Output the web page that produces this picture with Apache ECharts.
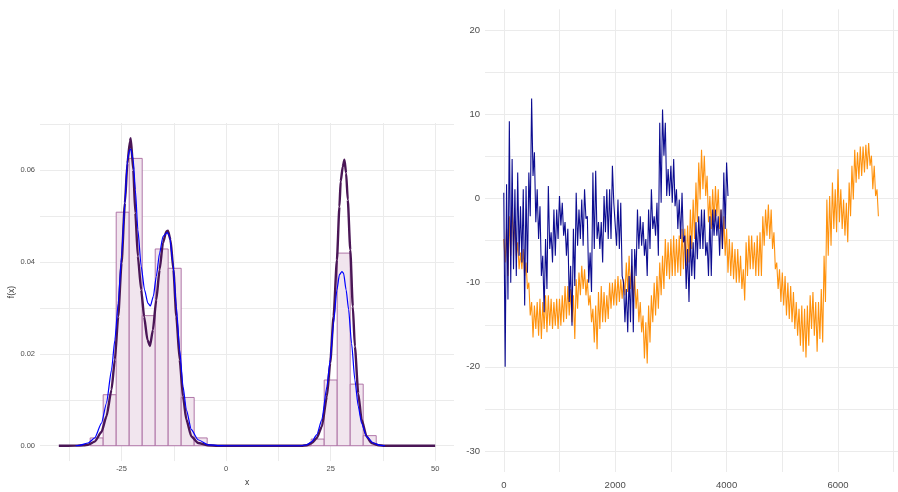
<!DOCTYPE html>
<html><head><meta charset="utf-8">
<script src="https://cdn.jsdelivr.net/npm/echarts@6/dist/echarts.min.js"></script>
<style>html,body{margin:0;padding:0;background:#fff}#c{width:898px;height:492px}</style>
</head><body><div id="c"></div>
<script>
// ---- left panel: histogram + densities ----
const binEdges = [-32.5,-29.39,-26.28,-23.17,-20.06,-16.95,-13.85,-10.74,-7.63,-4.52,-1.41,1.70,4.81,7.92,11.03,14.14,17.24,20.35,23.46,26.57,29.68,32.79,35.90];
const binHeights = [0.0017,0.0111,0.0508,0.0625,0.0283,0.0428,0.0386,0.0105,0.0017,0,0,0,0,0,0,0,0,0.00145,0.0143,0.0419,0.0134,0.0022];
const trueX = [-40,-36,-34,-33,-31.4,-29.8,-28.6,-27.4,-26.6,-25.8,-25.0,-24.2,-23.6,-23.0,-22.8,-22.2,-21.7,-21.1,-20.3,-19.6,-18.8,-18.2,-17.5,-16.7,-15.9,-15.1,-14.3,-13.9,-13.3,-12.6,-11.9,-11.1,-10.3,-9.5,-8.3,-6.7,-4.3,-2,18,19.3,20.5,21.7,22.9,24.1,24.9,25.7,26.5,27.1,27.4,27.9,28.3,28.7,29.1,29.7,30.3,30.8,31.6,32.4,33.6,34.8,36.4,38,50];
const trueY = [0,0.00002,0.0001,0.0002,0.0009,0.003,0.0064,0.0122,0.0187,0.0281,0.0397,0.0528,0.0614,0.0662,0.0669,0.0600,0.0506,0.0412,0.0339,0.0281,0.0230,0.0217,0.0252,0.0317,0.0383,0.0441,0.0466,0.0468,0.0448,0.0383,0.0281,0.0187,0.0107,0.0057,0.0020,0.0006,0.0001,0,0,0.0001,0.0006,0.0017,0.0042,0.0107,0.018,0.0281,0.0404,0.052,0.0575,0.0607,0.0622,0.0593,0.0535,0.0426,0.0303,0.0216,0.0114,0.0057,0.002,0.0006,0.0001,0,0];
const kdeX = [-36,-35,-33,-31.4,-29.8,-28.6,-27.4,-26.6,-25.8,-25.0,-24.2,-23.6,-23.1,-22.8,-22.2,-21.7,-21.1,-20.3,-19.5,-18.7,-18.1,-17.4,-16.7,-15.9,-15.1,-14.3,-14.1,-13.5,-12.7,-11.9,-11.1,-10.3,-9.5,-8.3,-6.7,-4.3,-2,0,18,19.3,20.5,21.7,22.9,24.1,24.9,25.7,26.5,27.1,27.7,28.1,28.7,29.3,30.0,30.8,31.6,32.4,33.6,35.2,36.8,38];
const kdeY = [0,0.0001,0.0006,0.0017,0.0049,0.0093,0.0165,0.023,0.031,0.0412,0.0528,0.0622,0.0643,0.0645,0.0622,0.0557,0.047,0.039,0.0339,0.031,0.0304,0.0325,0.0368,0.0419,0.0455,0.0462,0.0464,0.0455,0.0397,0.0303,0.0209,0.0129,0.0078,0.0035,0.0013,0.0002,0.00003,0,0,0.0002,0.0009,0.0024,0.0057,0.0128,0.0187,0.0267,0.0339,0.0372,0.0379,0.0375,0.0339,0.0296,0.0223,0.0143,0.0086,0.0049,0.002,0.0006,0.0001,0];
const leftXLabels = [-25,0,25,50];
const leftXGrid = [-37.5,-25,-12.5,0,12.5,25,37.5,50];
const leftYLabels = [0,0.02,0.04,0.06];
const leftYGrid = [0,0.01,0.02,0.03,0.04,0.05,0.06,0.07];

// ---- right panel: two paths, each cell of 50 time steps read as [local high, local low] ----
const tStep = 25;
const navyPath = [
0.7,-20, 1.7,-12, 9.2,-10, 4.7,-8.4, 1.1,-9.2, 3.1,-6.8, -0.9,-7.6, 1.1,-12.7, 1.5,-8.8, 3.1,-2.1,
11.9,2.7, 5.5,-2.8, 1.1,-4.8, -0.9,-9.2, -6.8,-13.5, -4.8,-10.75, 1.5,-6, -4,-7.6, -1.3,-6.8, -1.3,-4.8,
0.3,-3.2, -0.5,-4.4, -2.8,-6.8, -3.6,-12.3, -8,-15.1, -3.6,-10.4, 0.7,-5.6, -1.3,-4.8, -0.1,-5.6, 1.1,-2.4,
-2.1,-10, -6.4,-11.1, 3.1,-6, 3.3,-4.8, -2.8,-6, -2.8,-7.6, 0.3,-4, 1.1,-4.8, 1.1,-4.8, 3.9,-0.5,
-0.5,-5.6, -0.1,-6, -0.5,-9.2, -10,-14.7, -10.75,-15.9, -9.2,-14.7, -6,-15.9, -6,-9.2, -1.3,-6, -2.1,-5.6,
-2.8,-6.8, -4.8,-9.2, -1.3,-6, 1.1,-3.6, -2.1,-4.4, -0.5,-6.8, 9,-0.5, 10.6,5.1, 9,0.3, 3.5,0.3,
3.9,-0.5, 4.7,-0.9, 1.1,-3.6, -0.1,-4.8, 0.7,-5.2, -4.4,-10.75, -6,-12.3, -4.4,-9.2, -5.2,-9.6, -2.8,-7.2,
-2.1,-6, -1.3,-6, -1.3,-6.8, -5.2,-9.2, -2.1,-9.2, -1.3,-4.4, -1.3,-4.4, -2.1,-6.8, -1.3,-6, 3.1,-3.6,
4.3,0.3
];
const orangePath = [
-4.8,-7.6, -3.6,-9.2, -2.1,-6.8, -0.9,-5.6, -2.8,-6.8, -5.2,-8.4, -6.4,-8.4, -6,-9.2, -7.6,-10.75, -10,-13.9,
-12.3,-16.5, -12.7,-15.5, -12.3,-16.3, -11.9,-16.7, -12.3,-15.5, -11.5,-15.9, -11.5,-15.1, -11.9,-15.5, -12.3,-15.1, -11.9,-15.5,
-11.9,-15.1, -11.5,-14.7, -10.4,-14.3, -10.4,-13.9, -10.75,-14.7, -11.5,-16.7, -9.6,-13.1, -8.8,-11.5, -8,-10.75, -8.4,-11.5,
-9.6,-12.7, -11.5,-14.7, -13.1,-17.1, -12.7,-17.9, -11.1,-15.5, -10.4,-14.7, -11.1,-14.7, -11.5,-14.3, -10,-13.1, -10,-12.7,
-9.6,-12.7, -9.2,-12.3, -9.6,-11.9, -9.6,-11.5, -7.6,-11.1, -6.8,-10.75, -8,-12.3, -9.2,-13.1, -10.75,-14.7, -12.3,-15.9,
-13.9,-19, -14.7,-19.6, -12.7,-17.1, -11.5,-14.7, -10,-13.9, -9.2,-13.1, -7.6,-11.5, -6.8,-10.75, -4.8,-9.2, -5.2,-9.6,
-4.8,-9.2, -4.4,-9.2, -4.8,-8.8, -4.4,-9.2, -3.6,-8.4, -3.6,-8, -3.2,-7.6, -1.3,-6, -0.1,-4.8, 1.9,-2.8,
4.3,-0.1, 5.8,1.1, 5.1,0.3, 2.7,-2.8, 0.3,-3.6, 1.1,-2.8, 1.5,-2.1, 1.1,-3.6, -1.3,-6, -2.1,-6.8,
-3.6,-8.8, -4.8,-9.2, -5.2,-9.6, -6,-10, -6,-10, -6.8,-10.75, -8.4,-12.1, -5.2,-9.2, -4.4,-8.4, -4.4,-8.4,
-5.2,-9.2, -4.4,-9.2, -4,-9.2, -2.1,-5.6, -1.3,-4.4, -0.7,-4.8, -1.3,-6, -4,-8.4, -7.6,-10.75, -8.4,-12.3,
-8.8,-12.7, -9.2,-13.9, -10,-14.3, -10.4,-14.7, -11.1,-15.5, -12.3,-16.3, -13.1,-17.5, -12.7,-18.2, -13.1,-18.9, -12.7,-17.5,
-11.5,-15.5, -11.1,-16.3, -12.3,-18.2, -12.3,-16.7, -10.75,-17.1, -6.8,-12.3, -0.1,-6.8, 0.3,-5.6, 1.9,-3.6, 1.1,-4,
3.5,-2.8, 1.1,-3.6, -0.1,-4.4, -0.5,-5.2, 1.9,-2.1, 3.9,-0.1, 5.8,1.9, 5.5,2.3, 6.2,2.7, 6.2,3.1,
6.4,3.5, 6.6,3.9, 5.1,1.1, 3.9,0.3, 1.1,-2.1
];
const rightXLabels = [0,2000,4000,6000];
const rightXGrid = [0,1000,2000,3000,4000,5000,6000,7000];
const rightYLabels = [-30,-20,-10,0,10,20];
const rightYGrid = [-30,-25,-20,-15,-10,-5,0,5,10,15,20];

const FONT = 'Liberation Sans, Arial, sans-serif';
const TXT = '#4d4d4d';
const GRID = '#ebebeb';

const histData = binHeights.map((h,i)=>[binEdges[i], binEdges[i+1], h]);
const zip = (xs, ys) => xs.map((x,i)=>[x, ys[i]]);
const pathData = arr => arr.map((v,i)=>[i*tStep, v]);

function axisCommon(gridVals, labelVals, fontSize, margin, fmt){
  return {
    type:'value', axisLine:{show:false},
    axisTick:{show:false, customValues: gridVals},
    axisLabel:{customValues: labelVals, fontSize, color: TXT, fontFamily: FONT, margin, formatter: fmt},
    splitLine:{show:true, lineStyle:{color: GRID, width: 1}}
  };
}

const chart = echarts.init(document.getElementById('c'), null, {renderer:'canvas'});
chart.setOption({
  animation:false,
  backgroundColor:'#ffffff',
  grid:[
    {left:40, top:123, width:414, height:339},
    {left:485, top:9.3, width:421, height:462.7}
  ],
  xAxis:[
    Object.assign(axisCommon(leftXGrid, leftXLabels, 7.5, 4, v=>String(v)), {
      gridIndex:0, min:-44.5, max:54.5,
      name:'x', nameLocation:'middle', nameGap:16,
      nameTextStyle:{fontSize:8.5, color:'#333', fontFamily:FONT}
    }),
    Object.assign(axisCommon(rightXGrid, rightXLabels, 9.5, 8, v=>String(v)), {
      gridIndex:1, min:-337, max:7077
    })
  ],
  yAxis:[
    Object.assign(axisCommon(leftYGrid, leftYLabels, 7.5, 5, v=>v.toFixed(2)), {
      gridIndex:0, min:-0.00334, max:0.0702,
      name:'f(x)', nameLocation:'middle', nameGap:23,
      nameTextStyle:{fontSize:8.5, color:'#333', fontFamily:FONT}
    }),
    Object.assign(axisCommon(rightYGrid, rightYLabels, 9.5, 5, v=>String(v)), {
      gridIndex:1, min:-32.5, max:22.5
    })
  ],
  series:[
    {
      type:'custom', xAxisIndex:0, yAxisIndex:0, clip:true,
      encode:{x:[0,1], y:2},
      data: histData,
      renderItem(params, api){
        const p0 = api.coord([api.value(0), 0]);
        const p1 = api.coord([api.value(1), api.value(2)]);
        return {type:'rect',
          shape:{x:p0[0], y:p1[1], width:p1[0]-p0[0], height:p0[1]-p1[1]},
          style:{fill:'#f1e5ee', stroke:'#a8699f', lineWidth:0.9}};
      }
    },
    {
      type:'line', xAxisIndex:0, yAxisIndex:0, data: zip(trueX, trueY),
      showSymbol:false, smooth:0.2, smoothMonotone:'x',
      lineStyle:{color:'#4a1656', width:2.4}
    },
    {
      type:'line', xAxisIndex:0, yAxisIndex:0, data: zip(kdeX, kdeY),
      showSymbol:false, smooth:0.2, smoothMonotone:'x',
      lineStyle:{color:'#0000ff', width:1.2}
    },
    {
      type:'line', xAxisIndex:1, yAxisIndex:1, data: pathData(orangePath),
      showSymbol:false, clip:true,
      lineStyle:{color:'#ff8c00', width:1.1, opacity:0.95}
    },
    {
      type:'line', xAxisIndex:1, yAxisIndex:1, data: pathData(navyPath),
      showSymbol:false, clip:true,
      lineStyle:{color:'#00008b', width:1.1, opacity:0.95}
    }
  ]
});
</script></body></html>
